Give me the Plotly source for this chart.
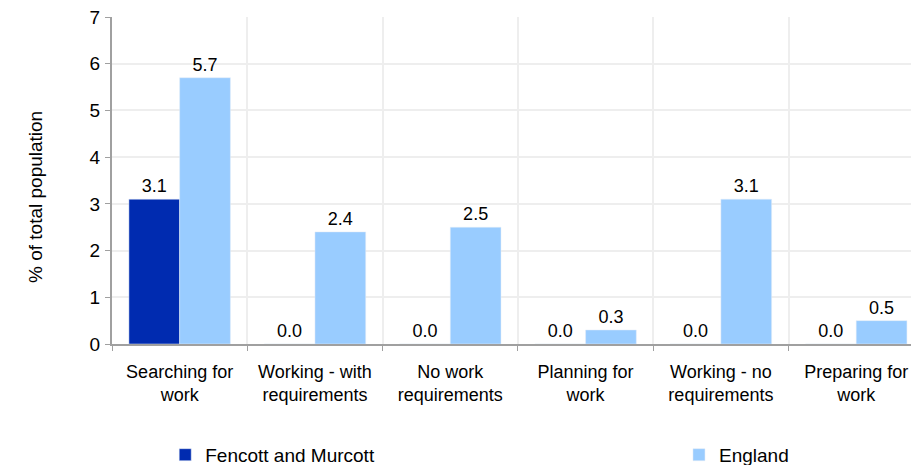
import plotly.graph_objects as go

categories = ["Searching for<br>work", "Working - with<br>requirements", "No work<br>requirements",
              "Planning for<br>work", "Working - no<br>requirements", "Preparing for<br>work"]
fencott = [3.1, 0.0, 0.0, 0.0, 0.0, 0.0]
england = [5.7, 2.4, 2.5, 0.3, 3.1, 0.5]
series_names = ["Fencott and Murcott", "England"]
y_title = "% of total population"

font = "Liberation Sans, Arial, sans-serif"
fig = go.Figure()
fig.add_bar(x=categories, y=fencott, name=series_names[0], marker_color="#002BB0",
            texttemplate="%{y:.1f}", textposition="outside", cliponaxis=False,
            textfont=dict(size=18, color="#000"), legend="legend")
fig.add_bar(x=categories, y=england, name=series_names[1], marker_color="#99CCFF",
            texttemplate="%{y:.1f}", textposition="outside", cliponaxis=False,
            textfont=dict(size=18, color="#000"), legend="legend2")

fig.update_layout(
    width=911, height=465,
    margin=dict(l=112, r=0, t=17, b=121, autoexpand=False),
    plot_bgcolor="white", paper_bgcolor="white",
    font=dict(family=font, size=17, color="#000"),
    barmode="group", bargap=0.25, bargroupgap=0,
    showlegend=True,
    legend=dict(x=0.0666, xanchor="left", y=-0.339, yanchor="middle",
                font=dict(size=19), bgcolor="rgba(0,0,0,0)"),
    legend2=dict(x=0.7096, xanchor="left", y=-0.339, yanchor="middle",
                 font=dict(size=19), bgcolor="rgba(0,0,0,0)"),
    uniformtext=dict(minsize=18, mode="show"),
    annotations=[dict(text=y_title, textangle=-90, xref="paper", yref="paper",
                      x=-0.0964, y=0.4495, xanchor="center", yanchor="middle",
                      showarrow=False, font=dict(size=19))],
)
fig.update_xaxes(range=[-0.5, 5.405], tickson="boundaries", ticks="outside", ticklen=5,
                 tickcolor="#a0a0a0", showline=True, linecolor="#a0a0a0", linewidth=2,
                 showgrid=True, gridcolor="#eeeeee", gridwidth=2, automargin=False,
                 ticklabelstandoff=10, tickfont=dict(size=18), ticklabeloverflow="allow")
fig.update_yaxes(range=[0, 7], dtick=1, ticks="outside", ticklen=5, tickcolor="#a0a0a0",
                 showline=True, linecolor="#a0a0a0", linewidth=2, automargin=False,
                 showgrid=True, gridcolor="#eeeeee", gridwidth=2, zeroline=False,
                 tickfont=dict(size=19), ticklabelstandoff=1, ticklabeloverflow="allow")
fig.write_html("out.html", config={"displayModeBar": False},
               post_script="document.body.style.margin='0';document.body.style.overflow='hidden';")
